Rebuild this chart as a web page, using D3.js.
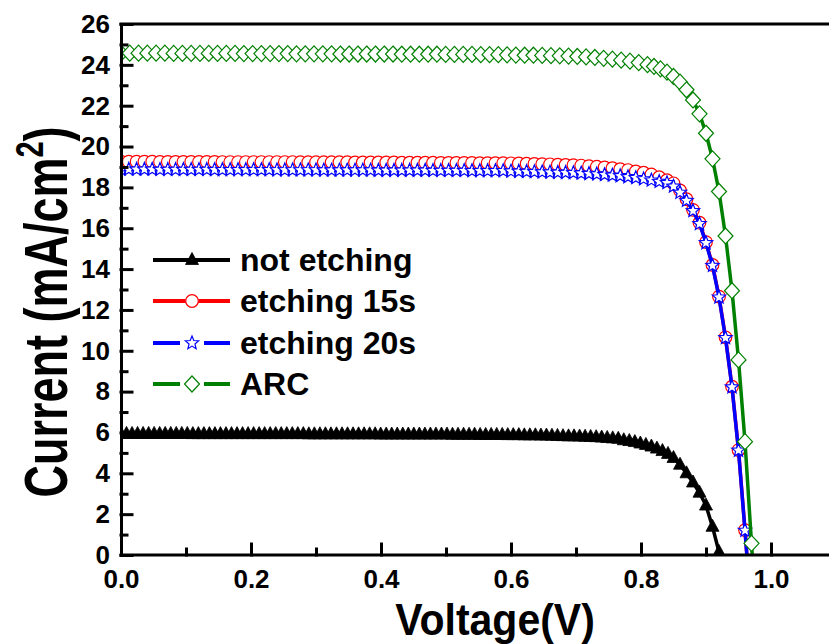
<!DOCTYPE html>
<html>
<head>
<meta charset="utf-8">
<script src="https://cdn.jsdelivr.net/npm/d3@7"></script>
<style>
	body { margin: 0; background: #fff; }
	svg { display: block; font-family: "Liberation Sans", Arial, sans-serif; font-weight: bold; }
</style>
</head>
<body>
<svg id="chart" width="829" height="644"></svg>
<script>
// measured voltage points (V) for each sample
let vNotEtching = [
	0.0000, 0.0085, 0.0170, 0.0255, 0.0340, 0.0425, 0.0510, 0.0595, 0.0680, 0.0765,
	0.0850, 0.0935, 0.1020, 0.1105, 0.1190, 0.1275, 0.1360, 0.1445, 0.1530, 0.1615,
	0.1700, 0.1785, 0.1870, 0.1955, 0.2040, 0.2125, 0.2210, 0.2295, 0.2380, 0.2465,
	0.2550, 0.2635, 0.2720, 0.2805, 0.2890, 0.2975, 0.3060, 0.3145, 0.3230, 0.3315,
	0.3400, 0.3485, 0.3570, 0.3655, 0.3740, 0.3825, 0.3910, 0.3995, 0.4080, 0.4165,
	0.4250, 0.4335, 0.4420, 0.4505, 0.4590, 0.4675, 0.4760, 0.4845, 0.4930, 0.5015,
	0.5100, 0.5185, 0.5270, 0.5355, 0.5440, 0.5525, 0.5610, 0.5695, 0.5780, 0.5865,
	0.5950, 0.6035, 0.6120, 0.6205, 0.6290, 0.6375, 0.6460, 0.6545, 0.6630, 0.6715,
	0.6800, 0.6885, 0.6970, 0.7055, 0.7140, 0.7225, 0.7310, 0.7395, 0.7480, 0.7565,
	0.7650, 0.7735, 0.7820, 0.7905, 0.7990, 0.8075, 0.8160, 0.8245, 0.8330, 0.8415,
	0.85, 0.86, 0.87, 0.88, 0.89, 0.90, 0.91, 0.92, 0.93
];
let vEtching = [
	0.000, 0.012, 0.024, 0.036, 0.048, 0.060, 0.072, 0.084, 0.096, 0.108,
	0.120, 0.132, 0.144, 0.156, 0.168, 0.180, 0.192, 0.204, 0.216, 0.228,
	0.240, 0.252, 0.264, 0.276, 0.288, 0.300, 0.312, 0.324, 0.336, 0.348,
	0.360, 0.372, 0.384, 0.396, 0.408, 0.420, 0.432, 0.444, 0.456, 0.468,
	0.480, 0.492, 0.504, 0.516, 0.528, 0.540, 0.552, 0.564, 0.576, 0.588,
	0.600, 0.612, 0.624, 0.636, 0.648, 0.660, 0.672, 0.684, 0.696, 0.708,
	0.720, 0.732, 0.744, 0.756, 0.768, 0.780, 0.792, 0.804, 0.816, 0.828,
	0.840, 0.85, 0.86, 0.87, 0.88, 0.89, 0.90, 0.91, 0.92, 0.93, 0.94, 0.95, 0.96, 0.97
];
let vArc = [
	0.0000, 0.0135, 0.0270, 0.0405, 0.0540, 0.0675, 0.0810, 0.0945, 0.1080, 0.1215,
	0.1350, 0.1485, 0.1620, 0.1755, 0.1890, 0.2025, 0.2160, 0.2295, 0.2430, 0.2565,
	0.2700, 0.2835, 0.2970, 0.3105, 0.3240, 0.3375, 0.3510, 0.3645, 0.3780, 0.3915,
	0.4050, 0.4185, 0.4320, 0.4455, 0.4590, 0.4725, 0.4860, 0.4995, 0.5130, 0.5265,
	0.5400, 0.5535, 0.5670, 0.5805, 0.5940, 0.6075, 0.6210, 0.6345, 0.6480, 0.6615,
	0.6750, 0.6885, 0.7020, 0.7155, 0.7290, 0.7425, 0.7560, 0.7695, 0.7830, 0.7965,
	0.81, 0.82, 0.83, 0.84, 0.85, 0.86, 0.87, 0.88, 0.89, 0.90, 0.91, 0.92, 0.93,
	0.94, 0.95, 0.96, 0.97, 0.98
];

// current density (mA/cm2), one value per voltage point
let notEtching = [
	5.93, 5.93, 5.93, 5.93, 5.93, 5.93, 5.93, 5.93, 5.93, 5.93,
	5.93, 5.93, 5.93, 5.92, 5.92, 5.92, 5.92, 5.92, 5.92, 5.92,
	5.92, 5.92, 5.92, 5.92, 5.92, 5.92, 5.92, 5.92, 5.92, 5.92,
	5.92, 5.92, 5.92, 5.92, 5.91, 5.91, 5.91, 5.91, 5.91, 5.91,
	5.91, 5.91, 5.91, 5.91, 5.91, 5.91, 5.91, 5.90, 5.90, 5.90,
	5.90, 5.90, 5.90, 5.90, 5.90, 5.90, 5.90, 5.90, 5.90, 5.90,
	5.89, 5.89, 5.89, 5.89, 5.89, 5.88, 5.88, 5.88, 5.88, 5.88,
	5.87, 5.87, 5.87, 5.86, 5.86, 5.86, 5.85, 5.85, 5.84, 5.83,
	5.82, 5.81, 5.81, 5.80, 5.79, 5.78, 5.77, 5.75, 5.73, 5.71,
	5.69, 5.62, 5.58, 5.53, 5.46, 5.39, 5.31, 5.21, 5.09, 4.95,
	4.75, 4.42, 4.00, 3.55, 3.05, 2.42, 1.38, 0.15, -1.20
];
let etching15 = [
	19.26, 19.26, 19.26, 19.26, 19.26, 19.25, 19.25, 19.25, 19.25, 19.25,
	19.25, 19.25, 19.25, 19.24, 19.24, 19.24, 19.24, 19.24, 19.24, 19.24,
	19.24, 19.24, 19.24, 19.23, 19.23, 19.23, 19.23, 19.23, 19.23, 19.23,
	19.22, 19.22, 19.22, 19.22, 19.22, 19.22, 19.21, 19.21, 19.21, 19.21,
	19.21, 19.20, 19.20, 19.20, 19.20, 19.20, 19.19, 19.19, 19.19, 19.19,
	19.18, 19.17, 19.16, 19.15, 19.14, 19.13, 19.11, 19.10, 19.09, 19.07,
	19.04, 19.01, 18.98, 18.94, 18.89, 18.85, 18.78, 18.72, 18.63, 18.50,
	18.35, 18.20, 17.85, 17.42, 16.90, 16.27, 15.32, 14.20, 12.65, 10.66, 8.24, 5.14, 1.22, -3.00
];
let etching20 = [
	18.88, 18.88, 18.88, 18.88, 18.88, 18.87, 18.87, 18.87, 18.87, 18.87,
	18.87, 18.87, 18.86, 18.86, 18.86, 18.86, 18.86, 18.86, 18.86, 18.86,
	18.85, 18.85, 18.85, 18.85, 18.85, 18.85, 18.84, 18.84, 18.84, 18.84,
	18.84, 18.84, 18.84, 18.83, 18.83, 18.83, 18.83, 18.83, 18.83, 18.83,
	18.82, 18.82, 18.82, 18.82, 18.82, 18.81, 18.81, 18.81, 18.81, 18.81,
	18.79, 18.78, 18.77, 18.76, 18.75, 18.74, 18.73, 18.72, 18.71, 18.69,
	18.67, 18.65, 18.62, 18.59, 18.56, 18.51, 18.47, 18.41, 18.35, 18.28,
	18.22, 18.05, 17.75, 17.35, 16.85, 16.22, 15.28, 14.17, 12.62, 10.63, 8.22, 5.12, 1.20, -3.00
];
let arc = [
	24.57, 24.57, 24.57, 24.57, 24.57, 24.57, 24.56, 24.56, 24.56, 24.56,
	24.56, 24.56, 24.56, 24.56, 24.55, 24.55, 24.55, 24.55, 24.55, 24.55,
	24.54, 24.54, 24.54, 24.54, 24.54, 24.53, 24.53, 24.53, 24.53, 24.53,
	24.53, 24.53, 24.52, 24.52, 24.52, 24.52, 24.52, 24.51, 24.51, 24.51,
	24.51, 24.50, 24.50, 24.50, 24.49, 24.48, 24.47, 24.47, 24.46, 24.45,
	24.44, 24.43, 24.41, 24.39, 24.36, 24.32, 24.28, 24.23, 24.18, 24.11,
	24.01, 23.92, 23.80, 23.64, 23.43, 23.15, 22.78, 22.28, 21.60, 20.65, 19.40, 17.80, 15.62,
	12.94, 9.55, 5.55, 0.57, -4.50
];

let seriesNames = ['not etching', 'etching 15s', 'etching 20s', 'ARC'];
let seriesColors = ['#000000', '#ff0000', '#0000ff', '#008000'];
let seriesSymbols = ['triangle', 'circle', 'star', 'diamond'];
let xTicks = [0.0, 0.2, 0.4, 0.6, 0.8, 1.0];
let xMinor = [0.1, 0.3, 0.5, 0.7, 0.9, 1.1];
let yTicks = [0, 2, 4, 6, 8, 10, 12, 14, 16, 18, 20, 22, 24, 26];
let yMinor = [1, 3, 5, 7, 9, 11, 13, 15, 17, 19, 21, 23, 25];

let svg = d3.select('#chart');
let padL = 121, padT = 24, padB = 555;

let x = d3.scaleLinear().domain([0, 1.1]).range([padL, padL + 715]);
let y = d3.scaleLinear().domain([0, 26]).range([padB, padT]);

svg.append('clipPath').attr('id', 'plot-clip')
	.append('rect')
	.attr('x', padL).attr('y', padT - 10)
	.attr('width', 829 - padL).attr('height', padB - padT + 10);

// marker shapes
function symbolPath(type) {
	if (type === 'triangle') return 'M0,-7.5L6.5,4.5L-6.5,4.5Z';
	if (type === 'circle') return d3.symbol(d3.symbolCircle, Math.PI * 6.3 * 6.3)();
	if (type === 'star') {
		let pts = [];
		for (let k = 0; k < 10; k++) {
			let r = k % 2 === 0 ? 7 : 3.1;
			let a = -Math.PI / 2 + k * Math.PI / 5;
			pts.push([r * Math.cos(a), r * Math.sin(a)]);
		}
		return 'M' + pts.map(p => p[0].toFixed(2) + ',' + p[1].toFixed(2)).join('L') + 'Z';
	}
	return 'M0,-8L7.5,0L0,8L-7.5,0Z';
}

function drawMarker(g, type, color) {
	g.append('path')
		.attr('d', symbolPath(type))
		.attr('fill', type === 'triangle' ? color : '#fff')
		.attr('stroke', color)
		.attr('stroke-width', type === 'triangle' ? 0.8 : 1.2)
		.attr('stroke-linejoin', 'miter');
}

let seriesData = [
	[vNotEtching, notEtching],
	[vEtching, etching15],
	[vEtching, etching20],
	[vArc, arc]
];
let line = d3.line().x(d => x(d[0])).y(d => y(d[1]));

let plot = svg.append('g').attr('clip-path', 'url(#plot-clip)');
seriesData.forEach(([volts, cur], i) => {
	let pts = cur.map((c, j) => [volts[j], c]);
	plot.append('path')
		.datum(pts)
		.attr('fill', 'none')
		.attr('stroke', seriesColors[i])
		.attr('stroke-width', 3.5)
		.attr('d', line);
	plot.selectAll('.m' + i)
		.data(pts.filter(p => p[1] > -0.5))
		.enter()
		.append('g')
		.attr('class', 'm' + i)
		.attr('transform', d => `translate(${x(d[0])},${y(d[1])})`)
		.each(function() { drawMarker(d3.select(this), seriesSymbols[i], seriesColors[i]); });
});

// axes
svg.append('g')
	.attr('transform', `translate(${padL},0)`)
	.call(d3.axisLeft(y).tickValues(yTicks).tickSizeInner(-11).tickSizeOuter(0).tickPadding(11));
svg.append('g')
	.attr('transform', `translate(${padL},0)`)
	.call(d3.axisLeft(y).tickValues(yMinor).tickSizeInner(-6).tickSizeOuter(0).tickFormat(''))
	.select('.domain').remove();
let xAxis = svg.append('g')
	.attr('transform', `translate(0,${padB})`)
	.call(d3.axisBottom(x).tickValues(xTicks).tickSizeInner(-11).tickSizeOuter(0).tickPadding(15)
		.tickFormat(d3.format('.1f')));
svg.append('g')
	.attr('transform', `translate(0,${padB})`)
	.call(d3.axisBottom(x).tickValues(xMinor).tickSizeInner(-6).tickSizeOuter(0).tickFormat(''))
	.select('.domain').remove();
xAxis.select('.domain').attr('d', `M${padL},0H829`);

svg.selectAll('.domain, .tick line')
	.attr('stroke', '#000')
	.attr('stroke-width', 3)
	.attr('stroke-linecap', 'square');
svg.selectAll('.tick text')
	.attr('fill', '#000')
	.style('font-size', '26px')
	.style('font-weight', 'bold');

svg.append('line')
	.attr('x1', padL).attr('x2', 829)
	.attr('y1', padT).attr('y2', padT)
	.attr('stroke', '#000').attr('stroke-width', 3).attr('stroke-linecap', 'square');

// axis titles (the original glyphs are drawn taller than they are wide)
svg.append('text')
	.attr('transform', 'translate(495,635) scale(1,1.1)')
	.attr('text-anchor', 'middle')
	.style('font-size', '41px')
	.text('Voltage(V)');

let yt = svg.append('text')
	.attr('transform', 'translate(67,312) rotate(-90) scale(1,1.35)')
	.attr('text-anchor', 'middle')
	.style('font-size', '45px');
yt.append('tspan').text('Current (mA/cm');
yt.append('tspan').attr('dy', -18).style('font-size', '29px').text('2');
yt.append('tspan').attr('dy', 18).text(')');

// legend
let legendY = [260, 301, 343, 384];
seriesNames.forEach((name, i) => {
	let g = svg.append('g').attr('transform', `translate(0,${legendY[i]})`);
	let broken = i >= 2;
	if (broken) {
		g.append('line').attr('x1', 153).attr('x2', 180).attr('stroke', seriesColors[i]).attr('stroke-width', 4);
		g.append('line').attr('x1', 204).attr('x2', 230).attr('stroke', seriesColors[i]).attr('stroke-width', 4);
	} else {
		g.append('line').attr('x1', 153).attr('x2', 230).attr('stroke', seriesColors[i]).attr('stroke-width', 4);
	}
	let m = g.append('g').attr('transform', 'translate(192,0)');
	drawMarker(m, seriesSymbols[i], seriesColors[i]);
	g.append('text')
		.attr('x', 240).attr('y', 11)
		.style('font-size', '32px')
		.text(name);
});
</script>
</body>
</html>
